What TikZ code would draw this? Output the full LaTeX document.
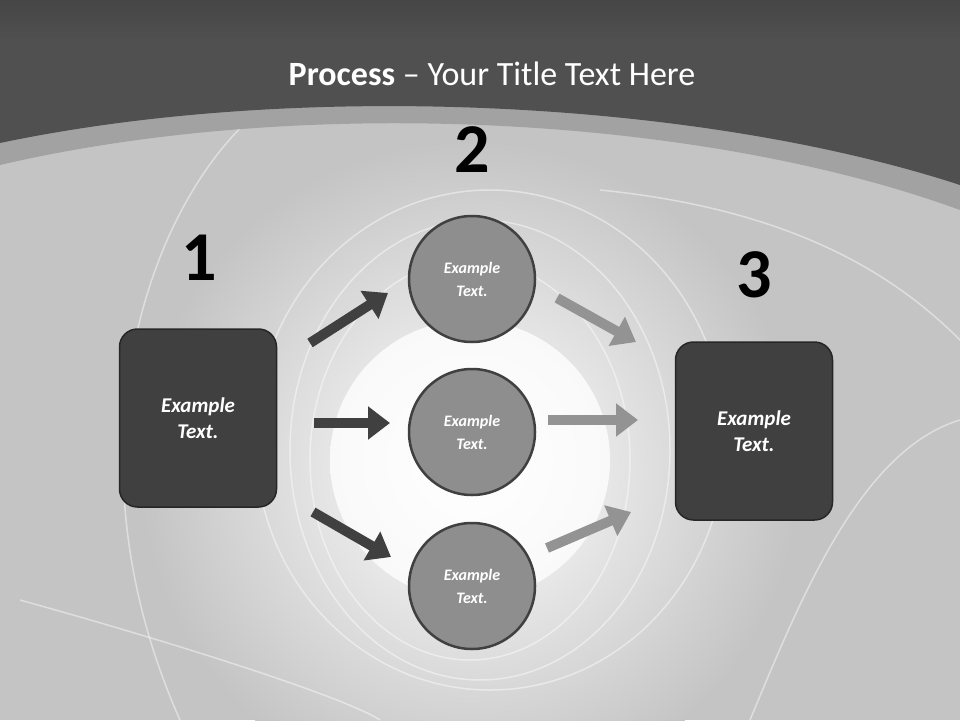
\documentclass[tikz,border=0pt]{standalone}
\usepackage{fontspec}
\setmainfont{Carlito}
\usetikzlibrary{arrows.meta}
\definecolor{hdr}{HTML}{505050}
\definecolor{band}{HTML}{A2A2A2}
\definecolor{bg}{HTML}{C4C4C4}
\definecolor{boxc}{HTML}{404040}
\definecolor{circc}{HTML}{8E8E8E}
\definecolor{arrl}{HTML}{939393}
\tikzset{
  sq/.style={draw=black!85,line width=1.5pt,fill=boxc,rounded corners=18pt,minimum width=157pt,minimum height=178pt,text=white,font=\bfseries\itshape\fontsize{21}{26}\selectfont,align=center},
  circ/.style={circle,draw=boxc,line width=2.5pt,fill=circc,minimum size=126pt,text=white,font=\bfseries\itshape\fontsize{16}{23}\selectfont,align=center},
  num/.style={font=\bfseries\fontsize{70}{70}\selectfont},
  darr/.style={line width=10pt,draw=boxc,-{Triangle[length=22pt,width=32pt]}},
  larr/.style={line width=10pt,draw=arrl,-{Triangle[length=22pt,width=32pt]}},
  swirl/.style={draw=white,opacity=0.45,line width=1.5pt}
}
\begin{document}
\begin{tikzpicture}[x=1pt,y=-1pt]
\useasboundingbox (0,0) rectangle (960,720);
\fill[bg] (0,0) rectangle (960,720);
\shade[inner color=white,outer color=bg] (470,470) circle (330);
\fill[white] (470,460) circle (130);
\shade[inner color=white,outer color=white!90!bg] (470,460) circle (140);
% swirl arcs
\draw[swirl] (470,460) ellipse (160 and 200);
\draw[swirl] (480,450) ellipse (190 and 230);
\draw[swirl] (490,440) ellipse (235 and 250);
\draw[swirl] (180,720) .. controls (60,450) and (150,200) .. (260,110);
\draw[swirl] (20,600) .. controls (200,650) and (350,700) .. (380,720);
\draw[swirl] (600,190) .. controls (800,210) and (900,280) .. (960,340);
\draw[swirl] (750,720) .. controls (800,600) and (860,450) .. (960,420);
% header
\fill[band] (0,0) -- (0,165) .. controls (300,95) and (700,115) .. (960,210) -- (960,0) -- cycle;
\fill[hdr] (0,0) -- (0,143) .. controls (300,80) and (700,100) .. (960,185) -- (960,0) -- cycle;
\shade[top color=black!75,bottom color=hdr,opacity=0.6] (0,0) rectangle (960,40);
\node[text=white,font=\fontsize{34}{40}\selectfont] (title) at (492,74) {\textbf{Process} -- Your Title Text Here};
% numbers
\node[num] (n1) at (199,258) {1};
\node[num] (n2) at (472,150) {2};
\node[num] (n3) at (754,275) {3};
% shapes
\node[sq] (b1) at (198,418) {Example\\Text.};
\node[sq] (b3) at (754,431) {Example\\Text.};
\node[circ] (c1) at (472,279) {Example\\Text.};
\node[circ] (c2) at (472,432) {Example\\Text.};
\node[circ] (c3) at (472,586) {Example\\Text.};
% arrow endpoints
\coordinate (a1s) at (310,343); \coordinate (a1e) at (388,293);
\coordinate (a2s) at (314,423); \coordinate (a2e) at (390,423);
\coordinate (a3s) at (313,512); \coordinate (a3e) at (391,557);
\coordinate (l1s) at (557,298); \coordinate (l1e) at (636,342);
\coordinate (l2s) at (548,420); \coordinate (l2e) at (638,420);
\coordinate (l3s) at (547,548); \coordinate (l3e) at (631,512);
\draw[darr] (a1s) -- (a1e);
\draw[darr] (a2s) -- (a2e);
\draw[darr] (a3s) -- (a3e);
\draw[larr] (l1s) -- (l1e);
\draw[larr] (l2s) -- (l2e);
\draw[larr] (l3s) -- (l3e);
\end{tikzpicture}
\end{document}
